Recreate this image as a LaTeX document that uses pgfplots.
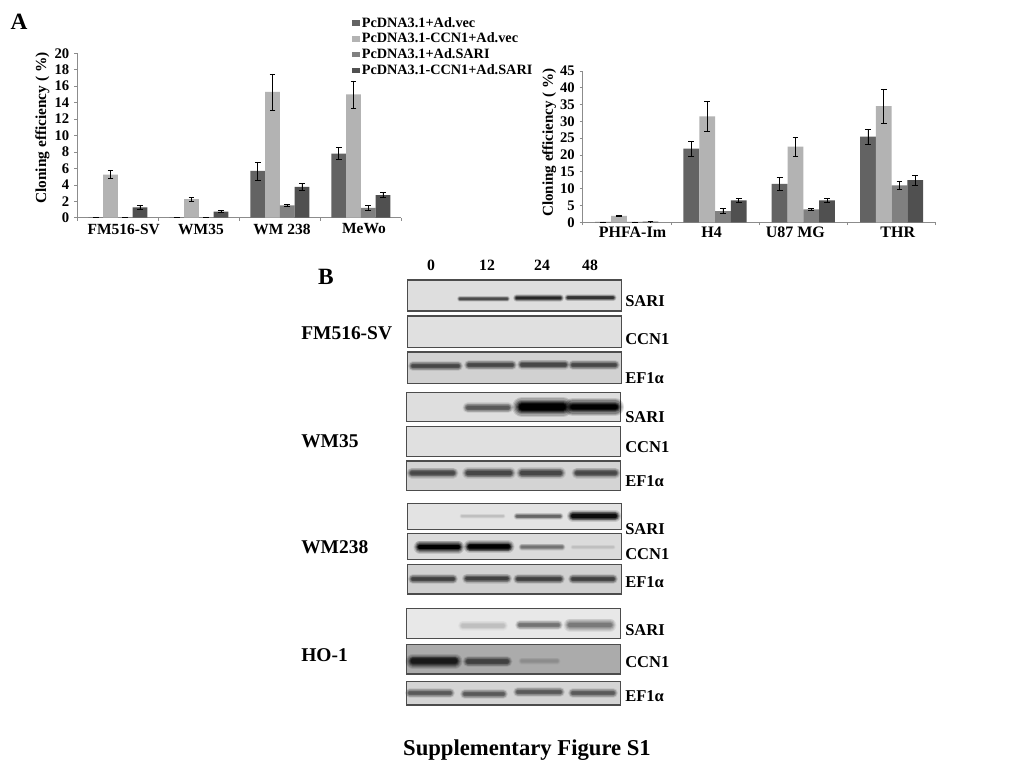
\documentclass[border=0pt]{standalone}
\usepackage{fontspec}
\setmainfont{Liberation Serif}
\usepackage{pgfplots}
\usepackage{pgfplotstable}
\pgfplotsset{compat=1.18}
\newcommand\fs[1]{\fontsize{#1}{#1}\selectfont\bfseries}
\definecolor{sa}{HTML}{636363}
\definecolor{sb}{HTML}{B3B3B3}
\definecolor{sc}{HTML}{808080}
\definecolor{sd}{HTML}{505050}
\definecolor{axc}{HTML}{8C8C8C}
\pgfplotstableread{
x a ae b be c ce d de
0.5 0.03 0 5.25 0.5 0.03 0 1.25 0.25
1.5 0.03 0 2.25 0.25 0.03 0 0.75 0.1
2.5 5.7 1.1 15.3 2.2 1.5 0.15 3.75 0.4
3.5 7.8 0.75 15.0 1.65 1.2 0.25 2.75 0.3
}\lefttab
\pgfplotstableread{
x a ae b be c ce d de
0.5 0.1 0 1.9 0.2 0.1 0 0.2 0.05
1.5 21.9 2.2 31.5 4.5 3.3 0.7 6.5 0.7
2.5 11.4 1.9 22.5 2.9 3.8 0.4 6.5 0.7
3.5 25.5 2.2 34.5 5.1 11 1.2 12.5 1.4
}\righttab
\newcommand\panel[5]{\addplot[draw=black!70,line width=0.8pt,fill=black!#5] coordinates {(#1,#2)(#3,#2)(#3,#4)(#1,#4)} -- cycle;}
\newcommand\bl[6]{\addplot[draw=black!#4,opacity=#6,line width=#5,line cap=round] coordinates {(#1,#3)(#2,#3)};}
\newcommand\band[5]{%
\bl{#1}{#2}{#3}{#4}{#5*1.50pt}{0.12}%
\bl{#1}{#2}{#3}{#4}{#5*1.30pt}{0.16}%
\bl{#1}{#2}{#3}{#4}{#5*1.10pt}{0.22}%
\bl{#1}{#2}{#3}{#4}{#5*0.90pt}{0.30}%
\bl{#1}{#2}{#3}{#4}{#5*0.72pt}{0.42}%
\bl{#1}{#2}{#3}{#4}{#5*0.55pt}{0.70}%
\bl{#1}{#2}{#3}{#4}{#5*0.40pt}{1}}
\newcommand\lab[4]{\node[anchor=#3,inner sep=0pt,font=\fs{#4}] at (axis cs:#1) {#2};}
\pgfplotsset{
  chart/.style={
    scale only axis, axis lines=left, axis line style={-,color=axc,line width=0.5pt},
    xmin=0,xmax=4,ymin=0,
    xtick={0,1,2,3,4},xticklabels={},
    tick style={color=axc,line width=0.5pt},major tick length=2.2pt,
    tick align=outside,
    ybar=0pt,
    /pgf/number format/assume math mode=true,
    yticklabel style={font=\fs{11},inner sep=3.6pt},
    extra x tick style={major tick length=0pt},
    clip=false,
    legend cell align=left,
  },
  ser/.style={fill=#1,draw=none,
    error bars/.cd,y dir=both,y explicit,error bar style={black,line width=0.5pt},
    error mark options={black,line width=0.5pt,mark size=2.2pt,rotate=90}},
}
\begin{document}
\begin{tikzpicture}
\path[use as bounding box,fill=white] (0,0) rectangle (768pt,576pt);
\begin{axis}[at={(0pt,0pt)},anchor=south west,scale only axis,width=768pt,height=576pt,
  xmin=0,xmax=1024,ymin=0,ymax=768,y dir=reverse,hide axis,clip=false]
% FM516-SV
\panel{407.3}{280}{621.7}{311}{13}
\band{460}{507}{298.7}{70}{3}\band{517}{560}{298}{85}{4}\band{568}{613}{297.7}{80}{3.6}
\panel{407.3}{316}{621.7}{347.3}{12}
\panel{407.3}{352}{621.7}{383.3}{18}
\band{413}{458}{366}{72}{5}\band{469}{512}{365}{72}{5}\band{522}{565}{364.7}{72}{5}\band{573}{615}{365}{72}{5}
% WM35
\panel{406.3}{392.3}{620.7}{421.7}{13}
\band{468}{508}{407.7}{65}{5.5}\band{522}{563}{407}{100}{10}\band{573}{615}{407}{100}{9}
\panel{406.3}{426.3}{620.7}{456.3}{12}
\panel{406.3}{461}{620.7}{490.7}{17}
\band{412}{453}{473}{72}{5.5}\band{468}{510}{473}{72}{6}\band{522}{560}{473}{72}{6}\band{577}{615}{473}{72}{5.5}
% WM238
\panel{407.7}{503.7}{621.7}{529.3}{11}
\band{462}{503}{516}{25}{2.5}\band{517}{560}{516.3}{60}{3.5}\band{573}{615}{516}{95}{6}
\panel{407.7}{533.7}{621.7}{559.3}{14}
\band{420}{458}{547}{100}{6.5}\band{470}{508}{546.7}{100}{6.5}\band{522}{562}{547}{55}{3.5}\band{573}{613}{547}{25}{2.5}
\panel{407.7}{564.3}{621.7}{594}{18}
\band{413}{453}{579}{75}{5}\band{467}{507}{578.5}{75}{5}\band{518}{560}{579}{75}{5}\band{573}{613}{579}{75}{5}
% HO-1
\panel{406.3}{608.7}{620.3}{638.3}{9}
\band{463}{503}{625.7}{25}{5}\band{520}{558}{625}{55}{5}\band{570}{610}{625}{52}{6.5}
\panel{406.3}{644.3}{620.3}{674}{33}
\band{413}{455}{661}{90}{7.5}\band{468}{507}{661.5}{75}{5.5}\band{522}{557}{661}{45}{3.5}
\panel{406.3}{681.3}{620.3}{705}{17}
\band{410}{450}{693}{65}{5}\band{465}{503}{694}{65}{5}\band{518}{560}{692}{65}{5}\band{573}{613}{693}{65}{5}
% text
\lab{19,22}{A}{center}{17.5}
\lab{326,277}{B}{center}{17.5}
\lab{431,265}{0}{center}{11.8}\lab{487,265}{12}{center}{11.8}\lab{542,265}{24}{center}{11.8}\lab{590,265}{48}{center}{11.8}
\lab{301,333}{FM516-SV}{west}{14.6}\lab{301,441}{WM35}{west}{14.6}\lab{301,547}{WM238}{west}{14.6}\lab{301,655}{HO-1}{west}{14.6}
\lab{625,300.7}{SARI}{west}{12.4}\lab{625,338.7}{CCN1}{west}{12.4}\lab{625,378}{EF1α}{west}{12.4}
\lab{625,416.7}{SARI}{west}{12.4}\lab{625,446.7}{CCN1}{west}{12.4}\lab{625,480.7}{EF1α}{west}{12.4}
\lab{625,529}{SARI}{west}{12.4}\lab{625,554}{CCN1}{west}{12.4}\lab{625,581.7}{EF1α}{west}{12.4}
\lab{625,630}{SARI}{west}{12.4}\lab{625,662}{CCN1}{west}{12.4}\lab{625,696}{EF1α}{west}{12.4}
\lab{527,750}{Supplementary Figure S1}{center}{17}
\end{axis}
% left chart
\begin{axis}[chart,at={(57.98pt,412.7pt)},anchor=origin,width=243pt,height=123.3pt,
  ymax=20,ytick={0,2,...,20},bar width=11.06pt,
  xticklabel style={font=\fs{11.6},yshift=-1pt},
  extra x ticks={0.573,1.527,2.527,3.54},extra x tick labels={FM516-SV,WM35,WM 238,MeWo},
  ylabel={Cloning efficiency ( \%)},
  ylabel style={font=\fs{11.5},at={(axis description cs:-0.108,0.546)},anchor=center},
  legend style={at={(0.848,1.233)},anchor=north west,draw=none,fill=none,font=\fs{10.7},
    inner sep=0pt,row sep=0.15pt,nodes={inner sep=1.4pt}},
  legend image code/.code={\fill[#1] (0cm,-0.07cm) rectangle (0.2cm,0.07cm);},
]
\addplot+[ser=sa] table[x=x,y=a,y error=ae] {\lefttab};
\addplot+[ser=sb] table[x=x,y=b,y error=be] {\lefttab};
\addplot+[ser=sc] table[x=x,y=c,y error=ce] {\lefttab};
\addplot+[ser=sd] table[x=x,y=d,y error=de] {\lefttab};
\legend{PcDNA3.1+Ad.vec,PcDNA3.1-CCN1+Ad.vec,PcDNA3.1+Ad.SARI,PcDNA3.1-CCN1+Ad.SARI}
\end{axis}
% right chart
\begin{axis}[chart,at={(437pt,409.3pt)},anchor=origin,width=264.8pt,height=113.5pt,
  ymax=45,ytick={0,5,...,45},bar width=11.85pt,
  xticklabel style={font=\fs{12}},
  extra x ticks={0.564,1.462,2.41,3.57},extra x tick labels={PHFA-Im,H4,U87 MG,THR},
  ylabel={Cloning efficiency ( \%)},
  ylabel style={font=\fs{11.3},at={(axis description cs:-0.095,0.527)},anchor=center},
]
\addplot+[ser=sa] table[x=x,y=a,y error=ae] {\righttab};
\addplot+[ser=sb] table[x=x,y=b,y error=be] {\righttab};
\addplot+[ser=sc] table[x=x,y=c,y error=ce] {\righttab};
\addplot+[ser=sd] table[x=x,y=d,y error=de] {\righttab};
\end{axis}
\end{tikzpicture}
\end{document}
